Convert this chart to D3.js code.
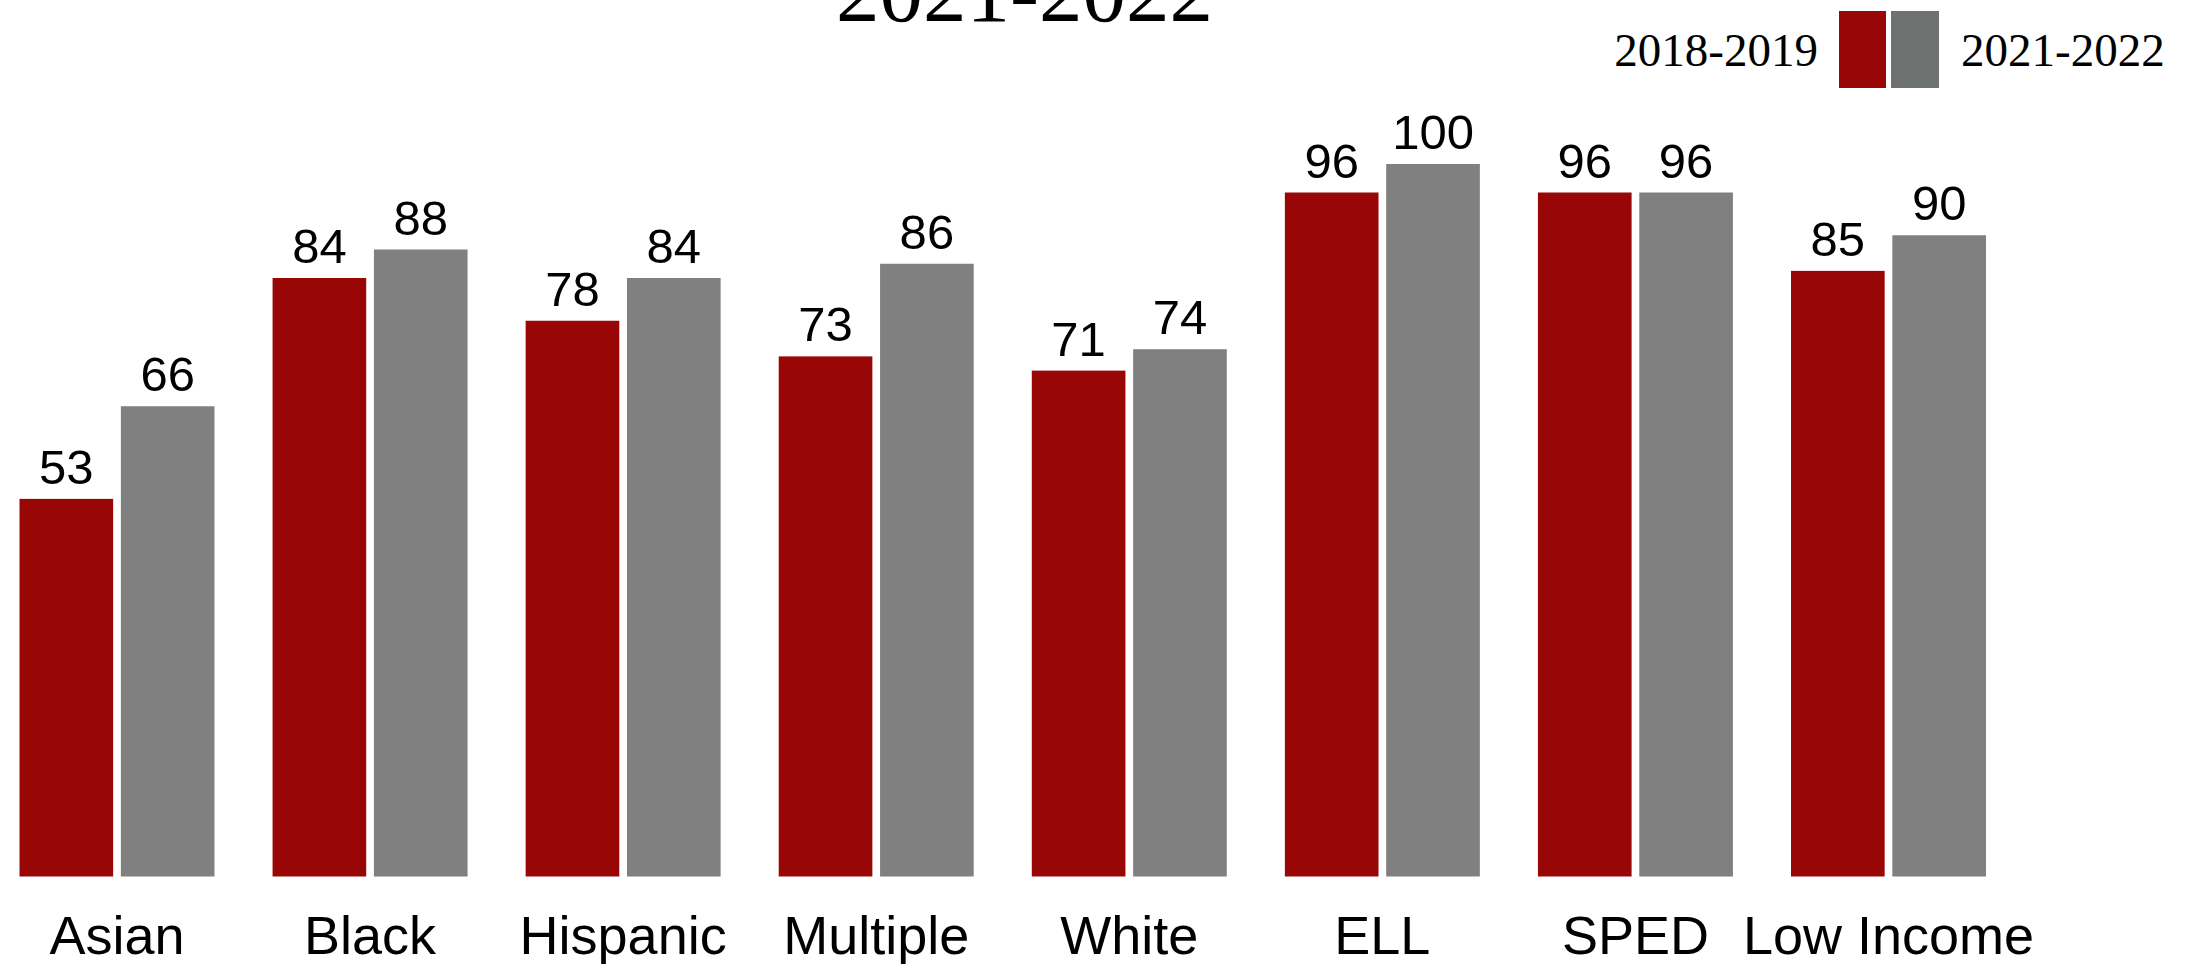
<!DOCTYPE html>
<html>
<head>
<meta charset="utf-8">
<script src="https://cdn.jsdelivr.net/npm/d3@7"></script>
<style>
  html, body { margin: 0; padding: 0; background: #ffffff; }
  svg { display: block; }
</style>
</head>
<body>
<svg id="chart" width="2197" height="964"></svg>
<script>
const categories = ["Asian", "Black", "Hispanic", "Multiple", "White", "ELL", "SPED", "Low Income"];
const seriesNames = ["2018-2019", "2021-2022"];
const values2018 = [53, 84, 78, 73, 71, 96, 96, 85];
const values2022 = [66, 88, 84, 86, 74, 100, 96, 90];
const titleText = "2021-2022";

const barColors = ["#980606", "#808080"];
const legendColors = ["#980606", "#6e7270"];

const W = 2197, H = 964;
const svg = d3.select("#chart");

const data = categories.map((c, i) => ({ cat: c, vals: [values2018[i], values2022[i]] }));

const x0 = d3.scaleBand().domain(categories).range([19.5, 1986]).paddingInner(0.2295).paddingOuter(0);
const x1 = d3.scaleBand().domain(seriesNames).range([0, x0.bandwidth()]).paddingInner(0.076).paddingOuter(0);
const y = d3.scaleLinear().domain([0, 100]).range([876.5, 164]);

// Title (only its lower line is visible, as in the original)
svg.append("text")
  .attr("x", 1024.5).attr("y", 21)
  .attr("text-anchor", "middle")
  .attr("font-family", "'Liberation Serif', 'Times New Roman', serif")
  .attr("font-size", 87)
  .attr("fill", "#000")
  .text(titleText);

// Bars
const groups = svg.append("g").selectAll("g")
  .data(data).join("g")
  .attr("transform", d => `translate(${x0(d.cat)},0)`);

groups.selectAll("rect")
  .data(d => d.vals.map((v, j) => ({ s: seriesNames[j], v, j })))
  .join("rect")
  .attr("x", d => x1(d.s))
  .attr("y", d => y(d.v))
  .attr("width", x1.bandwidth())
  .attr("height", d => y(0) - y(d.v))
  .attr("fill", d => barColors[d.j]);

groups.selectAll("text.val")
  .data(d => d.vals.map((v, j) => ({ s: seriesNames[j], v, j })))
  .join("text")
  .attr("class", "val")
  .attr("x", d => x1(d.s) + x1.bandwidth() / 2)
  .attr("y", d => y(d.v) - 15)
  .attr("text-anchor", "middle")
  .attr("font-family", "'Liberation Sans', Arial, Helvetica, sans-serif")
  .attr("font-size", 49)
  .attr("fill", "#000")
  .text(d => d.v);

// Category axis labels
const xAxis = d3.axisBottom(x0).tickSize(0).tickPadding(0);
const axisG = svg.append("g").call(xAxis);
axisG.select(".domain").remove();
axisG.selectAll(".tick text")
  .attr("y", 954)
  .attr("dy", 0)
  .attr("font-family", "'Liberation Sans', Arial, Helvetica, sans-serif")
  .attr("font-size", 54)
  .attr("fill", "#000");

// Legend
const legend = svg.append("g");
legend.append("text")
  .attr("x", 1818).attr("y", 66)
  .attr("text-anchor", "end")
  .attr("font-family", "'Liberation Serif', 'Times New Roman', serif")
  .attr("font-size", 47)
  .attr("fill", "#000")
  .text(seriesNames[0]);
const legendBoxes = [[1839, 47], [1891, 48]];
legend.selectAll("rect")
  .data(seriesNames)
  .join("rect")
  .attr("x", (d, i) => legendBoxes[i][0])
  .attr("y", 11)
  .attr("width", (d, i) => legendBoxes[i][1])
  .attr("height", 77)
  .attr("fill", (d, i) => legendColors[i]);
legend.append("text")
  .attr("x", 1961).attr("y", 66)
  .attr("text-anchor", "start")
  .attr("font-family", "'Liberation Serif', 'Times New Roman', serif")
  .attr("font-size", 47)
  .attr("fill", "#000")
  .text(seriesNames[1]);
</script>
</body>
</html>
